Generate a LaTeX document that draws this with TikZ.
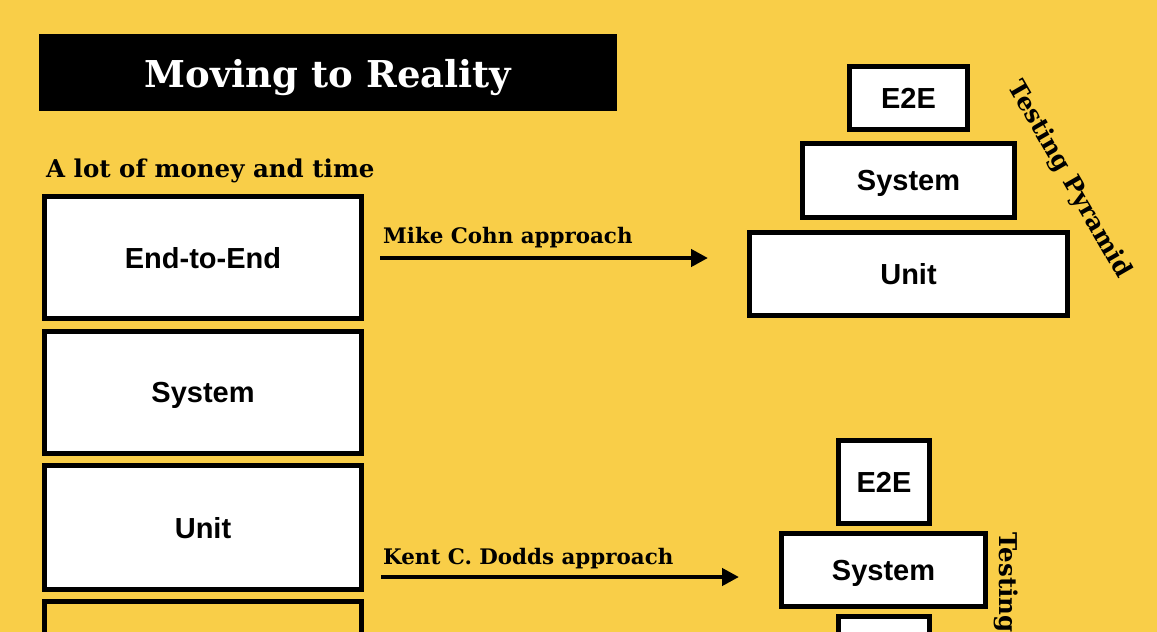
\documentclass[tikz,border=0pt]{standalone}
\usepackage{fontspec}
\setmainfont{Liberation Sans}
\newfontfamily\slabfont{DejaVu Serif}
\usetikzlibrary{arrows.meta}
\definecolor{bgyellow}{HTML}{F9CE48}
\tikzset{
  box/.style={draw=black, line width=5pt, fill=white, inner sep=0pt, text depth=0pt,
    font=\bfseries\fontsize{29}{31}\selectfont},
  slab/.style={font=\slabfont\bfseries\fontsize{21.4}{24}\selectfont, inner sep=0pt},
  approach/.style={line width=4.5pt, -{Triangle[length=17pt,width=17pt]}}
}
\begin{document}
\begin{tikzpicture}[x=1pt,y=-1pt]
\useasboundingbox (0,0) rectangle (1157,632);
\clip (0,0) rectangle (1157,632);
\fill[bgyellow] (0,0) rectangle (1157,632);
% title
\node[fill=black, minimum width=578pt, minimum height=77pt, inner sep=0pt] (title) at (328,72.5) {};
\node[slab, text=white, font=\slabfont\bfseries\fontsize{37}{40}\selectfont, anchor=base] (titletext) at (328,87) {Moving to Reality};
\node[slab, font=\slabfont\bfseries\fontsize{24.5}{26}\selectfont, anchor=base west] (money) at (46,177) {A lot of money and time};
% left stack
\node[box, minimum width=317pt, minimum height=122pt] (le2e) at (203,257.5) {End-to-End};
\node[box, minimum width=317pt, minimum height=122pt] (lsys) at (203,392.5) {System};
\node[box, minimum width=317pt, minimum height=124pt] (lunit) at (203,527.5) {Unit};
\node[box, fill=bgyellow, minimum width=317pt, minimum height=122pt] (lfour) at (203,662.5) {};
% arrows
\coordinate (a1s) at (380,258);
\coordinate (a1e) at (708,258);
\coordinate (a2s) at (381,577);
\coordinate (a2e) at (739,577);
\draw[approach] (a1s) -- (a1e);
\draw[approach] (a2s) -- (a2e);
\node[slab, anchor=base west] (mike) at (383,243) {Mike Cohn approach};
\node[slab, anchor=base west] (kent) at (383,564) {Kent C. Dodds approach};
% upper pyramid
\node[box, minimum width=118pt, minimum height=63pt] (pe2e) at (908.5,98) {E2E};
\node[box, minimum width=212pt, minimum height=74pt] (psys) at (908.5,180.5) {System};
\node[box, minimum width=318pt, minimum height=83pt] (punit) at (908.5,274) {Unit};
\node[slab, font=\slabfont\bfseries\fontsize{24.5}{26}\selectfont, rotate=-60] (pyrlabel) at (1069,180) {Testing Pyramid};
% lower trophy
\node[box, minimum width=91pt, minimum height=83pt] (te2e) at (884,482) {E2E};
\node[box, minimum width=204pt, minimum height=73pt] (tsys) at (883.5,570) {System};
\node[box, minimum width=91pt, minimum height=83pt] (tthird) at (884,658) {};
\node[slab, font=\slabfont\bfseries\fontsize{24.5}{26}\selectfont, rotate=-90, anchor=north west] (trolabel) at (1018,532) {Testing};
\end{tikzpicture}
\end{document}
